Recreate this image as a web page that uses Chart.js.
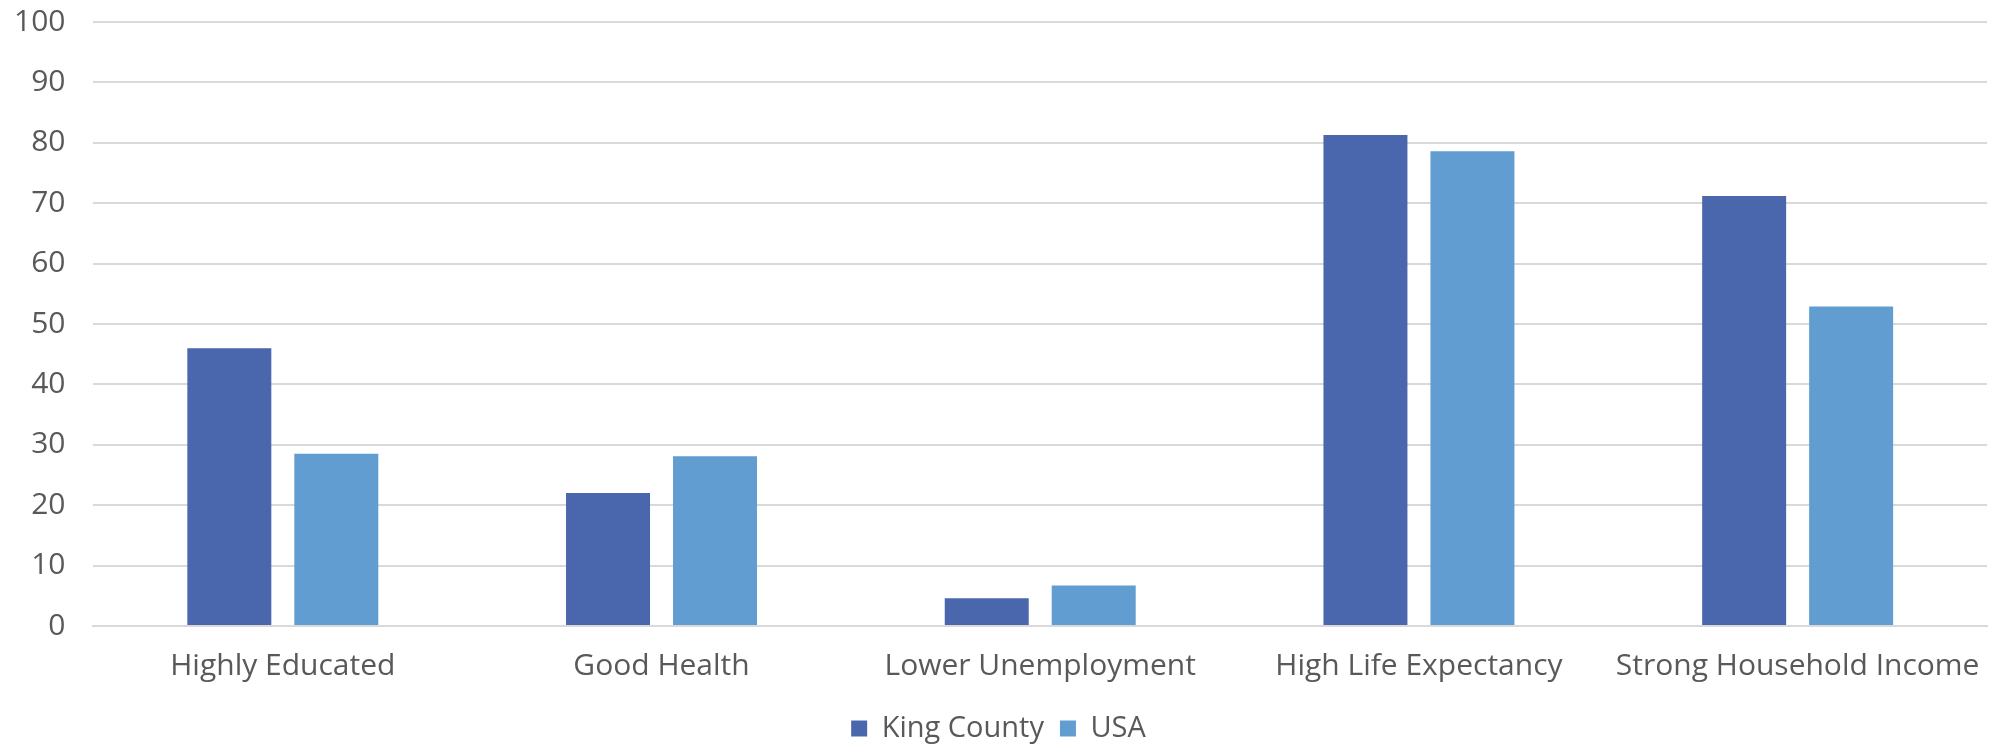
<!DOCTYPE html>
<html>
<head>
<meta charset="utf-8">
<script src="https://cdn.jsdelivr.net/npm/chart.js@4"></script>
<style>
  html, body { margin: 0; padding: 0; background: #fff; }
  #wrap { width: 1995px; height: 744px; }
</style>
</head>
<body>
<div id="wrap"><canvas id="outcomesChart"></canvas></div>
<script>
// categories and series
const categories = ['Highly Educated', 'Good Health', 'Lower Unemployment', 'High Life Expectancy', 'Strong Household Income'];
const kingCounty = [46, 22, 4.6, 81.3, 71.2];
const usa = [28.5, 28.1, 6.7, 78.6, 52.9];

const kingColor = '#4A66AC';
const usaColor = '#629DD1';
const textColor = '#595959';
const fontFamily = 'Open Sans';

const ctx = document.getElementById('outcomesChart').getContext('2d');
const outcomesChart = new Chart(ctx, {
    type: 'bar',
    data: {
        labels: categories,
        datasets: [{
            label: 'King County',
            data: kingCounty,
            backgroundColor: kingColor
        }, {
            label: 'USA',
            data: usa,
            backgroundColor: usaColor
        }]
    },
    options: {
        responsive: true,
        maintainAspectRatio: false,
        animation: false,
        datasets: {
            bar: {
                categoryPercentage: 0.565,
                barPercentage: 0.785
            }
        },
        layout: {
            padding: { top: 1, left: 10, right: 8, bottom: -9 }
        },
        plugins: {
            legend: {
                position: 'bottom',
                labels: {
                    color: textColor,
                    font: { family: fontFamily, size: 29 },
                    boxWidth: 16,
                    boxHeight: 16,
                    padding: 16
                }
            },
            tooltip: { enabled: false }
        },
        scales: {
            x: {
                grid: { display: false },
                border: { color: '#D9D9D9', width: 2 },
                ticks: {
                    color: textColor,
                    font: { family: fontFamily, size: 30 },
                    padding: 14,
                    maxRotation: 0
                }
            },
            y: {
                min: 0,
                max: 100,
                // invisible tick marks give the gap between labels and plot
                grid: { color: '#D9D9D9', lineWidth: 2, drawTicks: true, tickLength: 24, tickColor: 'rgba(0,0,0,0)' },
                border: { display: false },
                ticks: {
                    stepSize: 10,
                    color: textColor,
                    font: { family: fontFamily, size: 30 },
                    padding: 4
                }
            }
        }
    }
});
</script>
</body>
</html>
